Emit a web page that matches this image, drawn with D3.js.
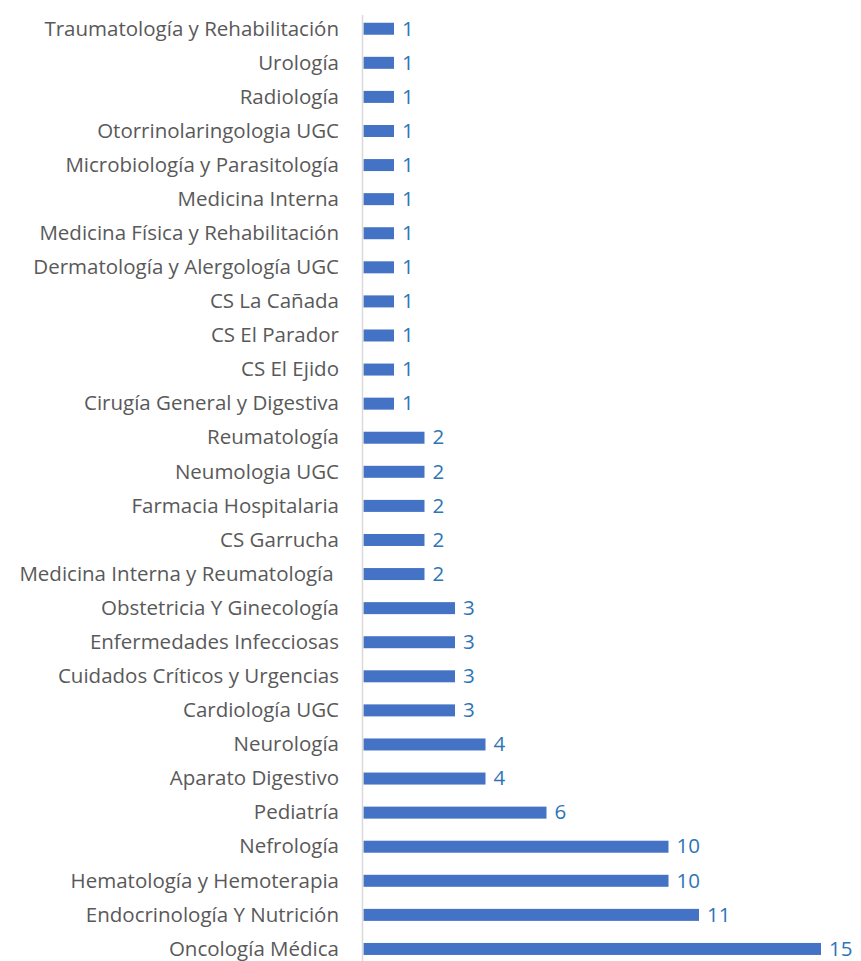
<!DOCTYPE html>
<html>
<head>
<meta charset="utf-8">
<script src="https://cdn.jsdelivr.net/npm/d3@7"></script>
<style>
  body { margin: 0; background: #fff; }
  text { font-family: "Open Sans", sans-serif; }
</style>
</head>
<body>
<div id="chart"></div>
<script>
// categories top to bottom
var categories = [
  "Traumatología y Rehabilitación", "Urología", "Radiología", "Otorrinolaringologia UGC",
  "Microbiología y Parasitología", "Medicina Interna", "Medicina Física y Rehabilitación",
  "Dermatología y Alergología UGC", "CS La Cañada", "CS El Parador", "CS El Ejido",
  "Cirugía General y Digestiva", "Reumatología", "Neumologia UGC", "Farmacia Hospitalaria",
  "CS Garrucha", "Medicina Interna y Reumatología ", "Obstetricia Y Ginecología",
  "Enfermedades Infecciosas", "Cuidados Críticos y Urgencias", "Cardiología UGC",
  "Neurología", "Aparato Digestivo", "Pediatría", "Nefrología", "Hematología y Hemoterapia",
  "Endocrinología Y Nutrición", "Oncología Médica"
];
var values = [1, 1, 1, 1, 1, 1, 1, 1, 1, 1, 1, 1, 2, 2, 2, 2, 2, 3, 3, 3, 3, 4, 4, 6, 10, 10, 11, 15];

var width = 861, height = 961;
var svg = d3.select("#chart").append("svg")
    .attr("width", width)
    .attr("height", height);

var x0 = 363.5;
var x = d3.scaleLinear().domain([0, 15]).range([x0, x0 + 15 * 30.5]);

var y = d3.scaleBand()
    .domain(categories)
    .range([11.7, 966])
    .paddingInner(0.648)
    .paddingOuter(0.324);

// bars
svg.selectAll("rect.bar")
    .data(categories)
    .enter().append("rect")
    .attr("class", "bar")
    .attr("x", x(0))
    .attr("y", function(d) { return y(d); })
    .attr("width", function(d, i) { return x(values[i]) - x(0); })
    .attr("height", y.bandwidth())
    .style("fill", "#4472c4");

// category axis
svg.append("line")
    .attr("x1", x0 - 1).attr("x2", x0 - 1)
    .attr("y1", 15).attr("y2", height)
    .style("stroke", "#d9d9d9")
    .style("stroke-width", 1.5);

svg.selectAll("text.cat")
    .data(categories)
    .enter().append("text")
    .attr("class", "cat")
    .attr("x", 339)
    .attr("y", function(d) { return y(d) + y.bandwidth() / 2; })
    .attr("dy", "0.33em")
    .attr("text-anchor", "end")
    .style("white-space", "pre")
    .style("font-size", "20.5px")
    .style("fill", "#595959")
    .text(function(d) { return d; });

// value labels
svg.selectAll("text.val")
    .data(categories)
    .enter().append("text")
    .attr("class", "val")
    .attr("x", function(d, i) { return x(values[i]) + 8; })
    .attr("y", function(d) { return y(d) + y.bandwidth() / 2; })
    .attr("dy", "0.33em")
    .style("font-size", "20.5px")
    .style("fill", "#2e75b6")
    .text(function(d, i) { return values[i]; });
</script>
</body>
</html>
